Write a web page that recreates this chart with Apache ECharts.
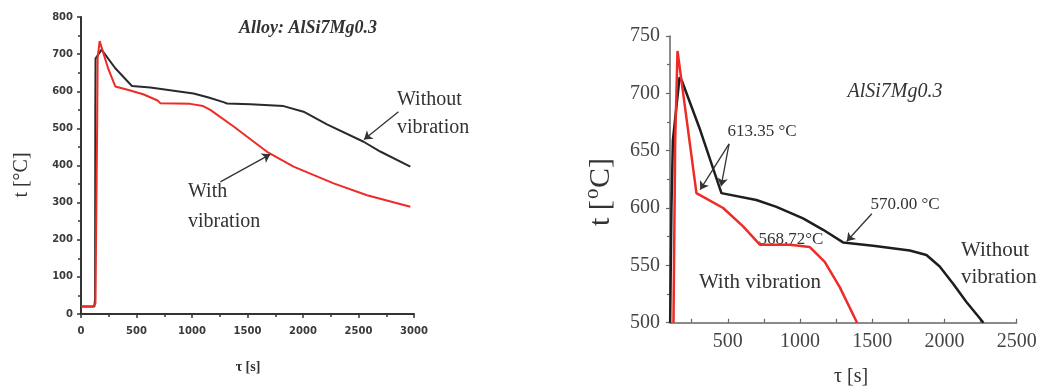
<!DOCTYPE html>
<html><head><meta charset="utf-8">
<script src="https://cdn.jsdelivr.net/npm/echarts@6/dist/echarts.min.js"></script>
<style>html,body{margin:0;padding:0;background:#fff}#c{width:1049px;height:389px}</style>
</head><body><div id="c"></div>
<script>
// ---- Left chart data: time [s], temperature [°C]
const leftWithout = [[0,20],[120,20],[127,40],[129,550],[131,688],[185,712],[309,662],[459,614],[624,610],[1014,594],[1150,583],[1290,570],[1315,567],[1525,565],[1825,560],[2005,545],[2216,511],[2546,464],[2700,437],[2967,397]];
const leftWith = [[0,20],[108,20],[118,25],[130,28],[144,30],[146,520],[150,690],[168,735],[246,660],[309,613],[420,604],[560,592],[690,575],[714,568],[985,566],[1100,560],[1165,550],[1375,505],[1676,437],[1915,397],[2276,352],[2577,320],[2967,289]];
// ---- Right chart data
const rightWithout = [[101,500],[110,600],[120,659],[166,714],[182,711],[309,668],[456,613],[698,607],[837,601],[1021,591],[1160,581],[1298,570],[1506,567],[1760,563],[1875,559],[1967,549],[2060,534],[2152,518],[2270,500]];
const rightWith = [[124,500],[136,659],[152,737],[283,613],[468,600],[606,584],[722,568],[929,568],[1068,566],[1171,553],[1275,531],[1395,500]];
// ---- Axis ticks / labels
const rightXLabelValues = [500,1000,1500,2000,2500];
const rightXTickValues = [250,500,750,1000,1250,1500,1750,2000,2250,2500];
// ---- Annotation arrows (data coordinates: from -> to)
const leftArrows = [[[2860,545],[2550,470]],[[1255,356],[1705,430]]];
const rightArrows = [[[509,656],[309,616]],[[509,656],[454,619]],[[1497,595],[1324,571]]];

const serif = 'Liberation Serif';
const plain = v => String(v);
const chart = echarts.init(document.getElementById('c'));
const arrowML = (arr) => ({
  silent: true, symbol: ['none','arrow'], symbolSize: 8,
  lineStyle: {color: '#333', width: 1.3, type: 'solid'},
  label: {show: false}, emphasis: {disabled: true},
  data: arr.map(a => [{coord: a[0]}, {coord: a[1]}])
});
const leftLabel = {fontFamily: 'DejaVu Sans', fontWeight: 'bold', fontSize: 10, color: '#3a3a3a', formatter: plain};
const txt = (x, y, text, font, align) => ({type: 'text', x, y, style: {text, font, fill: '#333', align: align || 'center', verticalAlign: 'middle'}});
chart.setOption({
  animation: false,
  grid: [
    {left: 81, top: 17, width: 333, height: 297},
    {left: 670, top: 36, width: 346.7, height: 286.7}
  ],
  xAxis: [
    {gridIndex: 0, type: 'value', min: 0, max: 3000, interval: 500,
     axisLine: {lineStyle: {color: '#333', width: 2}},
     axisTick: {length: 4, lineStyle: {color: '#333', width: 1.5}},
     minorTick: {show: true, splitNumber: 2, length: 3, lineStyle: {color: '#333', width: 1.5}},
     splitLine: {show: false}, axisLabel: Object.assign({margin: 12}, leftLabel)},
    {gridIndex: 1, type: 'value', min: 100, max: 2500,
     axisLine: {lineStyle: {color: '#666', width: 1.5}},
     axisTick: {inside: true, length: 4, customValues: rightXTickValues, lineStyle: {color: '#666', width: 1.2}},
     splitLine: {show: false},
     axisLabel: {customValues: rightXLabelValues, margin: 9, fontFamily: serif, fontSize: 20, color: '#444', formatter: plain}}
  ],
  yAxis: [
    {gridIndex: 0, type: 'value', min: 0, max: 800, interval: 100,
     axisLine: {show: true, lineStyle: {color: '#333', width: 2}},
     axisTick: {show: true, length: 4, lineStyle: {color: '#333', width: 1.5}},
     minorTick: {show: true, splitNumber: 2, length: 3, lineStyle: {color: '#333', width: 1.5}},
     splitLine: {show: false}, axisLabel: Object.assign({margin: 8}, leftLabel)},
    {gridIndex: 1, type: 'value', min: 500, max: 750, interval: 50,
     axisLine: {show: true, lineStyle: {color: '#666', width: 1.5}},
     axisTick: {show: true, length: 4, lineStyle: {color: '#666', width: 1.2}},
     minorTick: {show: true, splitNumber: 2, length: 3, lineStyle: {color: '#666', width: 1.2}},
     splitLine: {show: false},
     axisLabel: {margin: 10, fontFamily: serif, fontSize: 20, color: '#444', formatter: plain}}
  ],
  series: [
    {type: 'line', xAxisIndex: 0, yAxisIndex: 0, data: leftWithout, showSymbol: false,
     lineStyle: {color: '#2a2a2a', width: 2}, itemStyle: {color: '#2a2a2a'}, markLine: arrowML(leftArrows)},
    {type: 'line', xAxisIndex: 0, yAxisIndex: 0, data: leftWith, showSymbol: false,
     lineStyle: {color: '#ee2b26', width: 2}, itemStyle: {color: '#ee2b26'}},
    {type: 'line', xAxisIndex: 1, yAxisIndex: 1, data: rightWithout, showSymbol: false,
     lineStyle: {color: '#1e1e1e', width: 2.5}, itemStyle: {color: '#1e1e1e'}, markLine: arrowML(rightArrows)},
    {type: 'line', xAxisIndex: 1, yAxisIndex: 1, data: rightWith, showSymbol: false,
     lineStyle: {color: '#ee2b26', width: 2.5}, itemStyle: {color: '#ee2b26'}}
  ],
  graphic: [
    // left chart texts
    txt(308, 28, 'Alloy: AlSi7Mg0.3', 'italic bold 18px "Liberation Serif"'),
    txt(397, 100, 'Without', '20px "Liberation Serif"', 'left'),
    txt(397, 128, 'vibration', '20px "Liberation Serif"', 'left'),
    txt(188, 192, 'With', '20px "Liberation Serif"', 'left'),
    txt(188, 222, 'vibration', '20px "Liberation Serif"', 'left'),
    txt(248, 367, 'τ [s]', 'bold 14px "Liberation Serif"'),
    Object.assign(txt(22, 175, 't [°C]', '20px "Liberation Serif"'), {rotation: Math.PI/2}),
    // right chart texts
    txt(895, 92, 'AlSi7Mg0.3', 'italic 20px "Liberation Serif"'),
    txt(762, 132, '613.35 °C', '17px "Liberation Serif"'),
    txt(905, 205, '570.00 °C', '17px "Liberation Serif"'),
    txt(791, 240, '568.72°C', '17px "Liberation Serif"'),
    txt(760, 282, 'With vibration', '21px "Liberation Serif"'),
    txt(961, 250, 'Without', '21px "Liberation Serif"', 'left'),
    txt(961, 277, 'vibration', '21px "Liberation Serif"', 'left'),
    txt(851, 377, 'τ [s]', '20px "Liberation Serif"'),
    {type: 'group', x: 601, y: 190, rotation: Math.PI/2, children: [
      {type: 'text', x: -36, y: 0, style: {text: 't [', font: '30px "Liberation Serif"', fill: '#333', align: 'left', verticalAlign: 'middle'}},
      {type: 'text', x: -9, y: -9, style: {text: 'o', font: '21px "Liberation Serif"', fill: '#333', align: 'left', verticalAlign: 'middle'}},
      {type: 'text', x: 2, y: 0, style: {text: 'C]', font: '30px "Liberation Serif"', fill: '#333', align: 'left', verticalAlign: 'middle'}}
    ]}
  ]
});
</script></body></html>
